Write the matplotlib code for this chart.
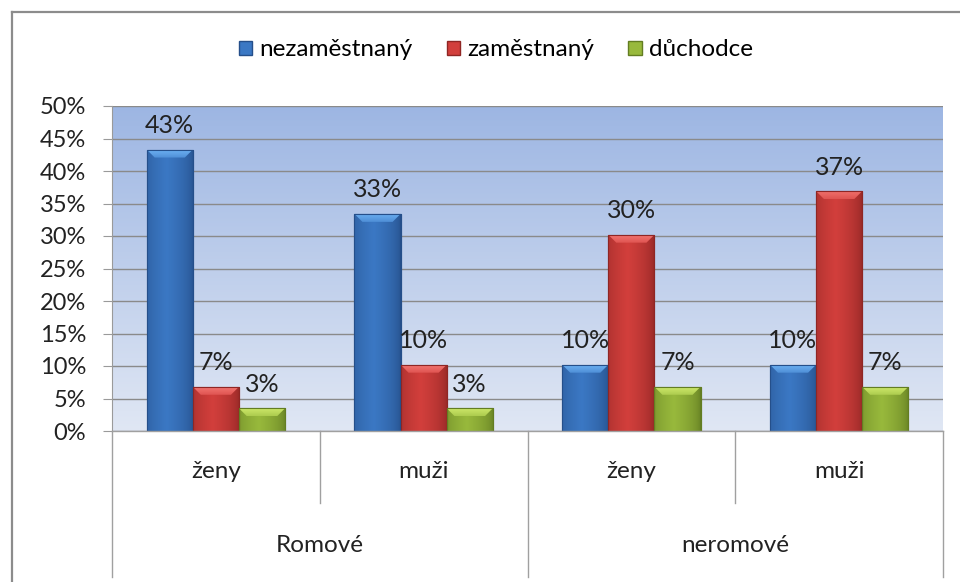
import numpy as np
import matplotlib
matplotlib.use("Agg")
from matplotlib import pyplot as plt
from matplotlib.patches import Patch, Polygon
from matplotlib.lines import Line2D
from matplotlib.colors import to_rgb

plt.rcParams['font.family'] = ['Lato', 'DejaVu Sans']

# --- data ---
groups = ['Romové', 'neromové']
subcats = ['ženy', 'muži', 'ženy', 'muži']
series = ['nezaměstnaný', 'zaměstnaný', 'důchodce']
nezamestnany = [43.3, 33.4, 10.2, 10.2]
zamestnany = [6.8, 10.2, 30.2, 36.9]
duchodce = [3.5, 3.5, 6.8, 6.8]
labels = [['43%', '33%', '10%', '10%'],
          ['7%', '10%', '30%', '37%'],
          ['3%', '3%', '7%', '7%']]

base_cols = ['#3b78c4', '#d23f3c', '#98b93c']
dark_cols = ['#254f8a', '#8f2624', '#637d22']
light_cols = ['#6cb0f2', '#f27470', '#cde86a']

FS = 17.5
W, H = 960, 582
fig = plt.figure(figsize=(W/100, H/100), dpi=100)
L, R, B, T = 112, 943, 431, 106
ax = fig.add_axes([L/W, 1-B/H, (R-L)/W, (B-T)/H])

# background gradient of the plot area
top_c = np.array(to_rgb('#9db6e3'))
bot_c = np.array(to_rgb('#e0e7f4'))
t = np.linspace(0, 1, 256)[:, None]
grad = top_c[None, :] * (1-t) + bot_c[None, :] * t
ax.imshow(grad[:, None, :].repeat(2, axis=1), extent=[0, 1, 0, 1], transform=ax.transAxes,
          aspect='auto', zorder=0, interpolation='bilinear')

ax.set_xlim(-0.5, 3.5)
ax.set_ylim(0, 50)
ax.set_yticks(np.arange(0, 51, 5))
ax.set_yticklabels([f'{v}%' for v in range(0, 51, 5)])
ax.yaxis.grid(True, color='#8a8a8a', lw=1.0, zorder=1)
ax.set_axisbelow(True)
ax.set_xticks([])
for s in ['top', 'right', 'bottom']:
    ax.spines[s].set_visible(False)
ax.spines['left'].set_color('#9a9a9a')
ax.tick_params(axis='y', length=6.5, color='#9a9a9a', pad=12, labelsize=17, labelcolor='#222222')

x = np.arange(len(subcats))
bw = 0.222
offs = [-bw, 0, bw]
vals = [nezamestnany, zamestnany, duchodce]
px_y = (B - T) / 50.0
px_x = (R - L) / 4.0
bevel = 8 / px_y
bev_x = 8 / px_x

hx = np.linspace(0, 1, 64)
prof = np.clip(1 - np.abs(hx - 0.42) / 0.58, 0, 1) ** 0.5
vy = np.linspace(0, 1, 32)[:, None]  # 0 at top of bevel image

for i, v in enumerate(vals):
    bars = ax.bar(x + offs[i], v, bw, color=base_cols[i], edgecolor=dark_cols[i], lw=0.8, zorder=3)
    d = np.array(to_rgb(dark_cols[i]))
    b = np.array(to_rgb(base_cols[i]))
    li = np.array(to_rgb(light_cols[i]))
    img = d[None, :] * (1-prof[:, None]) + b[None, :] * prof[:, None]
    img = img[None, :, :].repeat(2, axis=0)
    top_img = li[None, None, :] * (1 - vy[:, :, None]*0.6) + b[None, None, :] * (vy[:, :, None]*0.6)
    top_img = top_img.repeat(2, axis=1)
    for bar, lab in zip(bars, labels[i]):
        x0, w, h = bar.get_x(), bar.get_width(), bar.get_height()
        im = ax.imshow(img, extent=[x0, x0 + w, 0, h], aspect='auto', zorder=4, interpolation='bilinear')
        im.set_clip_path(bar)
        # light bevel on top (trapezoid)
        bv = min(bevel, h * 0.45)
        poly = Polygon([(x0, h), (x0 + w, h), (x0 + w - bev_x, h - bv), (x0 + bev_x, h - bv)],
                       closed=True, fc='none', ec='none', transform=ax.transData)
        ax.add_patch(poly)
        im2 = ax.imshow(top_img, extent=[x0, x0 + w, h - bv, h], aspect='auto', zorder=5,
                        interpolation='bilinear')
        im2.set_clip_path(poly)
        ax.add_patch(plt.Rectangle((x0, 0), w, h, fill=False, ec=dark_cols[i], lw=0.8, zorder=6))
        ax.annotate(lab, (x0 + w/2, h), xytext=(0, 9), textcoords='offset points',
                    ha='center', va='bottom', fontsize=18, color='#222222', zorder=7)

# two-level category axis
tr = ax.get_xaxis_transform()
lc = '#a0a0a0'
ax.plot([-0.5, 3.5], [0, 0], color=lc, lw=1, transform=tr, clip_on=False, zorder=8)
for xv in [0.5, 2.5]:
    ax.plot([xv, xv], [0, -(503-B)/(B-T)], color=lc, lw=1, transform=tr, clip_on=False)
for xv in [-0.5, 1.5, 3.5]:
    ax.plot([xv, xv], [0, -(577-B)/(B-T)], color=lc, lw=1, transform=tr, clip_on=False)
for xi, s in zip(x, subcats):
    ax.text(xi, -(471-B)/(B-T), s, transform=tr, ha='center', va='center', fontsize=FS, color='#222222')
for gi, g in enumerate(groups):
    ax.text(0.5 + 2*gi, -(546-B)/(B-T), g, transform=tr, ha='center', va='center', fontsize=FS,
            color='#222222')

# legend
handles = [Patch(facecolor=base_cols[i], edgecolor=dark_cols[i], label=series[i]) for i in range(3)]
fig.legend(handles=handles, loc='center', bbox_to_anchor=(496/W, 1 - 50/H), ncol=3, frameon=False,
           fontsize=FS, handlelength=0.55, handleheight=0.55, handletextpad=0.3, columnspacing=1.4)

# outer frame
fig.add_artist(Line2D([12/W, 1], [1-12/H, 1-12/H], color='#8c8c8c', lw=1.6))
fig.add_artist(Line2D([12/W, 12/W], [0, 1-12/H], color='#8c8c8c', lw=1.6))

fig.savefig('out.png', dpi=100)
